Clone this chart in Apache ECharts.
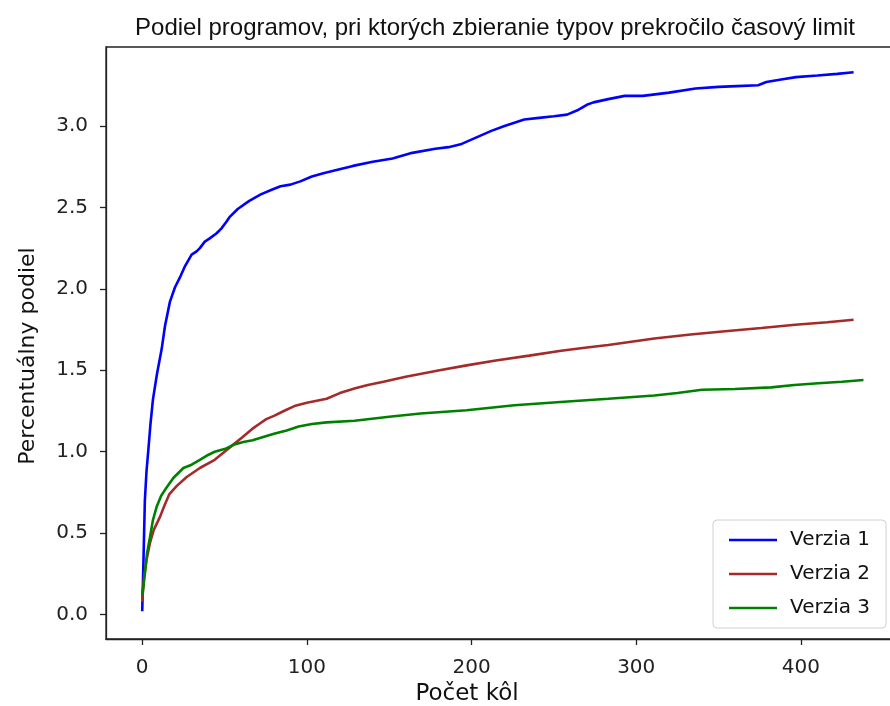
<!DOCTYPE html>
<html>
<head>
<meta charset="utf-8">
<script src="https://cdn.jsdelivr.net/npm/echarts@6/dist/echarts.min.js"></script>
<style>html,body{margin:0;padding:0;background:#fff}#c{width:890px;height:706px}</style>
</head>
<body>
<div id="c"></div>
<script>
const seriesNames = ['Verzia 1', 'Verzia 2', 'Verzia 3'];
const v1x = [0,0.8,1.6,2.6,3.7,5,6.5,9,11.8,13.8,16.8,19.9,22.9,26,30,33,35,38,41,45,48,51,53,58,65,72,79,84,90,96,103,110,118,128,140,152,164,178,186,194,203,212,220,226,232,241,250,258,265,270,274,283,293,304,320,336,350,361,374,379,388,397,410,422,432];
const v1y = [0.02,0.35,0.70,0.88,1.01,1.17,1.32,1.48,1.63,1.77,1.92,2.01,2.07,2.14,2.21,2.23,2.25,2.29,2.31,2.34,2.37,2.41,2.44,2.49,2.54,2.58,2.61,2.63,2.64,2.66,2.69,2.71,2.73,2.755,2.78,2.80,2.835,2.86,2.87,2.89,2.93,2.97,3.00,3.02,3.04,3.05,3.06,3.07,3.10,3.13,3.145,3.165,3.185,3.185,3.205,3.23,3.24,3.245,3.25,3.27,3.285,3.30,3.31,3.32,3.33];
const v2x = [0,1,2.5,4.7,7,10.8,13.5,16.5,21,27,35,44,50,55.5,61,66.8,71,75.3,80,86,92.4,100,112,120,129.4,137,146.5,160,180.6,197,214.7,235,254.4,270,283,297,311,333,354,376,396.5,416,432];
const v2y = [0.08,0.22,0.33,0.44,0.52,0.60,0.67,0.74,0.79,0.845,0.90,0.95,1.0,1.045,1.09,1.14,1.17,1.20,1.22,1.25,1.28,1.30,1.325,1.36,1.39,1.41,1.43,1.46,1.50,1.53,1.56,1.59,1.62,1.64,1.655,1.675,1.695,1.72,1.74,1.76,1.78,1.795,1.81];
const v3x = [0,0.8,1.7,3,4.7,6.5,8.7,11.5,14.8,19,25,30,35,40,44,51,56,61.4,67,73.5,80,87.7,95,103,112,129,150,169,197,226,254,283,311,325,340,360,382,396,410.5,425,438];
const v3y = [0.12,0.18,0.26,0.38,0.475,0.58,0.66,0.73,0.78,0.84,0.90,0.92,0.95,0.98,1.0,1.02,1.045,1.06,1.07,1.09,1.11,1.13,1.155,1.17,1.18,1.19,1.215,1.235,1.255,1.285,1.305,1.325,1.345,1.36,1.38,1.385,1.395,1.41,1.42,1.43,1.44];
const xTicks = [0,100,200,300,400];
const yTicks = [0,0.5,1.0,1.5,2.0,2.5,3.0];
const colors = ['#0000ff','#a52a2a','#008000'];

const pairs = (xs, ys) => xs.map((x, i) => [x, ys[i]]);
const allData = [pairs(v1x, v1y), pairs(v2x, v2y), pairs(v3x, v3y)];

const font = 'DejaVu Sans';
const chart = echarts.init(document.getElementById('c'), null, {renderer: 'canvas'});
chart.setOption({
  animation: false,
  backgroundColor: '#fff',
  title: {
    text: 'Podiel programov, pri ktorých zbieranie typov prekročilo časový limit',
    left: 490, top: 11, textAlign: 'center',
    textStyle: {fontFamily: '"Liberation Sans Narrow", "Arial Narrow", "Liberation Sans"', fontSize: 24, fontWeight: 'normal', color: '#111'}
  },
  grid: {left: 106, top: 47, right: -13, bottom: 67, outerBoundsMode: 'none', containLabel: false, show: true, borderColor: '#222', borderWidth: 1.3, backgroundColor: 'transparent'},
  legend: {
    orient: 'vertical', left: 713, top: 520,
    data: seriesNames,
    icon: 'rect', itemWidth: 48, itemHeight: 2.5, itemGap: 12,
    padding: [9, 16, 9, 16],
    backgroundColor: '#fff', borderColor: '#d0d0d0', borderWidth: 1, borderRadius: 4,
    textStyle: {fontFamily: font, fontSize: 20, color: '#111', lineHeight: 22, padding: [0,0,0,8]}
  },
  xAxis: {
    type: 'value', min: -22, max: 462,
    name: 'Počet kôl', nameLocation: 'middle', nameGap: 43,
    nameTextStyle: {fontFamily: font, fontSize: 23, color: '#111', padding: [0, 75, 0, 0]},
    axisLine: {show: true, onZero: false, lineStyle: {color: '#222', width: 1.3}},
    axisTick: {show: true, inside: false, length: 6, customValues: xTicks, lineStyle: {color: '#222', width: 1.3}},
    axisLabel: {customValues: xTicks, margin: 19, fontFamily: font, fontSize: 20, color: '#222'},
    splitLine: {show: false}
  },
  yAxis: {
    type: 'value', min: -0.15, max: 3.485,
    name: 'Percentuálny podiel', nameLocation: 'middle', nameGap: 67, nameRotate: 90,
    nameTextStyle: {fontFamily: font, fontSize: 22, color: '#111', padding: [0, 26, 0, 0]},
    axisLine: {show: true, onZero: false, lineStyle: {color: '#222', width: 1.3}},
    axisTick: {show: true, inside: false, length: 6, customValues: yTicks, lineStyle: {color: '#222', width: 1.3}},
    axisLabel: {customValues: yTicks, margin: 18, fontFamily: font, fontSize: 20, color: '#222', formatter: v => v.toFixed(1)},
    splitLine: {show: false}
  },
  series: allData.map((d, i) => ({
    name: seriesNames[i], type: 'line', data: d,
    showSymbol: false, symbol: 'none', smooth: false,
    lineStyle: {color: colors[i], width: 2.6},
    itemStyle: {color: colors[i]}
  }))
});
</script>
</body>
</html>
